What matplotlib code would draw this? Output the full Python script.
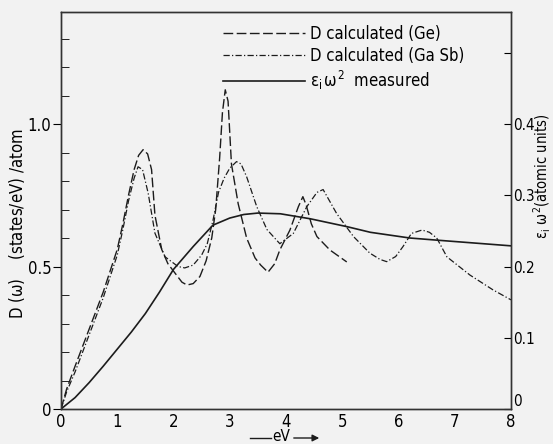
import matplotlib
matplotlib.use('Agg')
from matplotlib import pyplot as plt
from matplotlib import font_manager
from matplotlib.ticker import MultipleLocator, FixedLocator

# D calculated (Ge), left axis
ge_x = [0, 0.1, 0.25, 0.5, 0.75, 1.0, 1.1, 1.2, 1.3, 1.38, 1.46, 1.54, 1.61, 1.67, 1.79, 1.9,
        2.03, 2.15, 2.24, 2.35, 2.47, 2.58, 2.68, 2.75, 2.82, 2.87, 2.92, 2.97, 3.03, 3.15,
        3.3, 3.45, 3.55, 3.68, 3.8, 3.89, 4.07, 4.22, 4.3, 4.36, 4.45, 4.55, 4.78, 5.08]
ge_y = [0, 0.07, 0.15, 0.28, 0.41, 0.56, 0.65, 0.75, 0.84, 0.89, 0.91, 0.895, 0.84, 0.68, 0.56, 0.51,
        0.476, 0.445, 0.435, 0.44, 0.465, 0.52, 0.6, 0.7, 0.88, 1.04, 1.12, 1.08, 0.86, 0.72,
        0.6, 0.53, 0.505, 0.48, 0.51, 0.558, 0.628, 0.71, 0.745, 0.715, 0.65, 0.605, 0.558, 0.516]

# D calculated (Ga Sb), left axis
gasb_x = [0, 0.1, 0.25, 0.5, 0.75, 1.0, 1.1, 1.2, 1.3, 1.37, 1.45, 1.55, 1.67, 1.85, 2.08,
          2.2, 2.35, 2.5, 2.6, 2.7, 2.8, 2.9, 3.0, 3.12, 3.2, 3.3, 3.48, 3.66, 3.89, 4.13,
          4.37, 4.55, 4.66, 4.9, 5.2, 5.49, 5.67, 5.79, 5.95, 6.08, 6.23, 6.42, 6.55, 6.68,
          6.86, 7.27, 7.68, 8.0]
gasb_y = [0, 0.06, 0.13, 0.26, 0.39, 0.54, 0.63, 0.73, 0.81, 0.85, 0.84, 0.757, 0.617, 0.534, 0.5,
          0.495, 0.505, 0.54, 0.58, 0.66, 0.76, 0.81, 0.845, 0.868, 0.86, 0.815, 0.71, 0.63, 0.58, 0.616,
          0.71, 0.76, 0.77, 0.686, 0.605, 0.547, 0.525, 0.517, 0.535, 0.57, 0.616, 0.628, 0.62, 0.6,
          0.534, 0.47, 0.418, 0.383]

# eps_i * omega^2 measured, right axis (atomic units)
eps_x = [0, 0.25, 0.5, 0.75, 1.0, 1.25, 1.5, 1.75, 2.0, 2.35, 2.7, 3.0, 3.25, 3.5, 3.9,
         4.43, 5.08, 5.5, 6.2, 6.68, 8.0]
eps_y = [0, 0.016, 0.037, 0.06, 0.084, 0.108, 0.134, 0.164, 0.196, 0.228, 0.258, 0.268,
         0.273, 0.275, 0.274, 0.267, 0.256, 0.248, 0.24, 0.237, 0.229]

names = {f.name for f in font_manager.fontManager.ttflist}
if 'Liberation Sans Narrow' in names:
    fnt = 'Liberation Sans Narrow'
else:
    fnt = 'DejaVu Sans'
    plt.rcParams['font.stretch'] = 'condensed'
plt.rcParams['font.family'] = [fnt, 'DejaVu Sans']
plt.rcParams['mathtext.fontset'] = 'custom'
plt.rcParams['mathtext.rm'] = fnt
plt.rcParams['mathtext.it'] = fnt
plt.rcParams['font.size'] = 12
bg = '#f2f2f2'
ink = '#1c1c1c'

fig = plt.figure(figsize=(5.53, 4.44), dpi=100, facecolor=bg)
ax = fig.add_axes([61 / 553, 1 - 409 / 444, 450 / 553, 397 / 444])
ax.set_facecolor(bg)
ax2 = ax.twinx()

l1, = ax.plot(ge_x, ge_y, color=ink, lw=1.0, dashes=(7, 2.5), label='D calculated (Ge)')
l2, = ax.plot(gasb_x, gasb_y, color=ink, lw=0.9, dashes=(5, 1.8, 1, 1.8), label='D calculated (Ga Sb)')
l3, = ax2.plot(eps_x, eps_y, color=ink, lw=1.2, label=r'$\varepsilon_{\rm i}\,\omega^2$  measured')

ax.set_xlim(0, 8)
ax.set_ylim(0, 1.393)
ax2.set_ylim(0, 1.393 * 0.4)

ax.set_xticks(range(9))
ax.tick_params(axis='x', length=0, pad=3)
ax.yaxis.set_major_locator(FixedLocator([0, 0.5, 1.0]))
ax.yaxis.set_major_formatter(plt.FixedFormatter(['0', '0.5', '1.0']))
ax.yaxis.set_minor_locator(MultipleLocator(0.1))
ax.tick_params(axis='y', which='major', direction='out', length=6, pad=1)
ax.tick_params(axis='y', which='minor', direction='in', length=6)

ax2.yaxis.set_major_locator(FixedLocator([0, 0.1, 0.2, 0.3, 0.4, 0.5]))
ax2.yaxis.set_major_formatter(plt.FixedFormatter(['0', '0.1', '0.2', '0.3', '0.4', '']))
ax2.tick_params(axis='y', direction='in', length=5, pad=1.5, labelsize=11)
ax2.get_yticklabels()[0].set_va('bottom')

for a in (ax, ax2):
    for s in a.spines.values():
        s.set_color('#333333')
        s.set_linewidth(1.0)

ax.legend(handles=[l1, l2, l3], loc='upper left', bbox_to_anchor=(0.345, 0.985),
          frameon=False, handlelength=4.9, handletextpad=0.3, labelspacing=0.25,
          borderaxespad=0)

fig.text(17 / 553, 1 - 224 / 444, r'D ($\omega$)    (states/eV) /atom', rotation=90,
         ha='center', va='center')
fig.text(542 / 553, 1 - 176 / 444, r'$\varepsilon_{\rm i}\ \omega^2$(atomic units)', rotation=90,
         ha='center', va='center', fontsize=10.5)

fig.text(281 / 553, 1 - 436 / 444, 'eV', ha='center', va='center', fontsize=11)
fig.add_artist(plt.Line2D([250 / 553, 271 / 553], [1 - 438 / 444] * 2, color=ink, lw=1.0))
ax.annotate('', xy=(322 / 553, 1 - 438 / 444), xytext=(291 / 553, 1 - 438 / 444),
            xycoords='figure fraction', textcoords='figure fraction',
            arrowprops=dict(arrowstyle='-|>', color=ink, lw=1.0, mutation_scale=10))

fig.savefig('out.png', dpi=100, facecolor=bg)
